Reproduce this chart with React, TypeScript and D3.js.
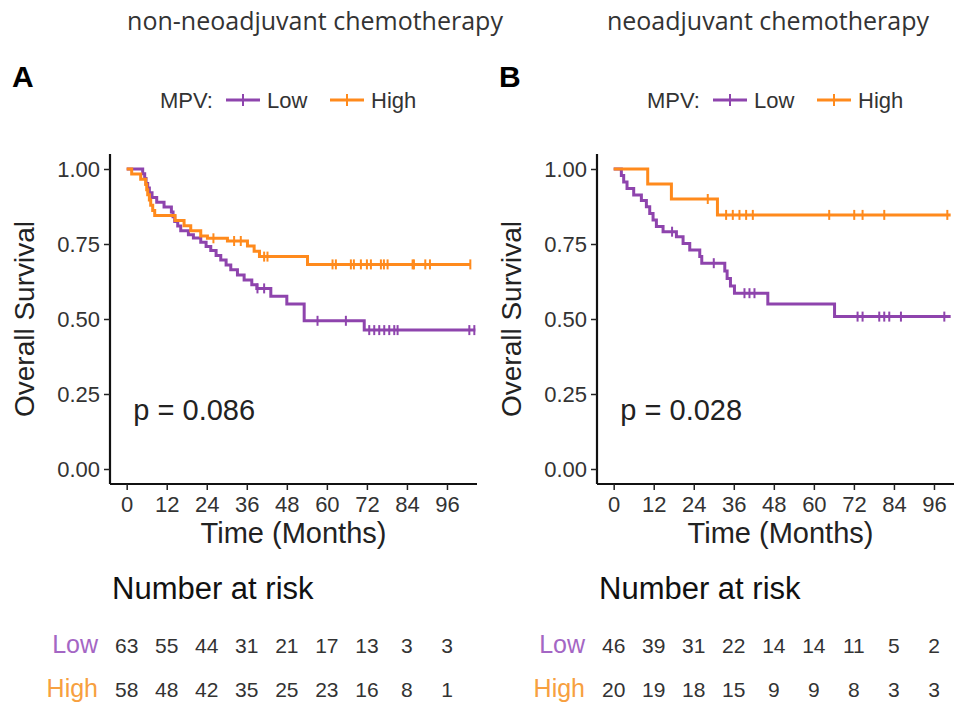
import React, { useRef, useEffect } from 'react';
import * as d3 from 'd3';

// ---- data ----
const timeBreaks = [0, 12, 24, 36, 48, 60, 72, 84, 96];
const survBreaks = [0, 0.25, 0.5, 0.75, 1];
const groups = ['Low', 'High'];

// Panel A: non-neoadjuvant chemotherapy
const aLowTimes = [4.8, 5.4, 5.8, 6.3, 6.8, 7.6, 9.0, 11.2, 13.4, 13.9, 14.4, 15.3, 16.2, 18.5, 20.0, 22.2, 23.8, 25.2, 26.8, 28.2, 29.8, 31.2, 33.2, 35.2, 37.5, 39.0, 43.2, 48.0, 53.2, 71.2];
const aLowSurv = [0.984, 0.968, 0.952, 0.937, 0.921, 0.905, 0.889, 0.873, 0.857, 0.841, 0.825, 0.81, 0.794, 0.781, 0.77, 0.756, 0.742, 0.728, 0.712, 0.697, 0.68, 0.664, 0.647, 0.63, 0.614, 0.602, 0.576, 0.55, 0.494, 0.463];
const aLowCensor = [39.2, 41.2, 57.2, 65.7, 72.7, 74.2, 75.7, 77.2, 78.7, 80.2, 81.2, 102.7, 104.2];
const aHighTimes = [1.5, 4.2, 5.7, 6.0, 6.3, 6.8, 7.2, 7.8, 8.4, 14.5, 17.2, 19.2, 22.2, 24.2, 30.2, 36.2, 38.2, 39.8, 54.2];
const aHighSurv = [0.983, 0.966, 0.948, 0.931, 0.914, 0.897, 0.879, 0.862, 0.845, 0.828, 0.811, 0.794, 0.777, 0.769, 0.76, 0.743, 0.726, 0.708, 0.682];
const aHighCensor = [26.0, 32.2, 34.2, 41.2, 42.2, 61.7, 62.7, 67.2, 68.1, 70.2, 72.0, 73.2, 76.2, 77.1, 78.2, 85.7, 86.1, 89.5, 90.9, 103.0];
const aEnd = [104.5, 103.0];
const aRiskLow = [63, 55, 44, 31, 21, 17, 13, 3, 3];
const aRiskHigh = [58, 48, 42, 35, 25, 23, 16, 8, 1];

// Panel B: neoadjuvant chemotherapy
const bLowTimes = [2.3, 3.0, 4.0, 6.0, 8.3, 9.8, 10.8, 11.8, 12.8, 14.8, 18.8, 20.8, 22.8, 25.8, 26.4, 33.3, 34.0, 35.0, 36.2, 46.2, 66.2];
const bLowSurv = [0.978, 0.957, 0.935, 0.913, 0.895, 0.874, 0.852, 0.83, 0.808, 0.791, 0.774, 0.752, 0.73, 0.708, 0.686, 0.66, 0.635, 0.61, 0.586, 0.55, 0.508];
const bLowCensor = [17.5, 30.0, 39.2, 40.7, 42.2, 73.1, 74.6, 79.6, 81.1, 82.6, 86.1, 99.1];
const bHighTimes = [10.2, 17.3, 31.1];
const bHighSurv = [0.95, 0.9, 0.847];
const bHighCensor = [28.2, 33.7, 35.7, 37.7, 39.7, 41.7, 64.6, 72.1, 74.6, 81.1, 100.0];
const bEnd = [101, 101];
const bRiskLow = [46, 39, 31, 22, 14, 14, 11, 5, 2];
const bRiskHigh = [20, 19, 18, 15, 9, 9, 8, 3, 3];

const COLORS = ['#8E44AD', '#FF8A1C'];
const RISK_COLORS = ['#A466C4', '#F7A040'];
const FONT = '"Liberation Sans", Arial, Helvetica, sans-serif';

interface Curve { times: number[]; surv: number[]; censor: number[]; end: number; }
interface PanelCfg {
  id: string; letter: string; title: string; titleX: number; pval: string;
  left: number; curves: Curve[]; risk: number[][];
}

const panels: PanelCfg[] = [
  {
    id: 'a', letter: 'A', title: 'non-neoadjuvant chemotherapy', titleX: 315, pval: 'p = 0.086', left: 110,
    curves: [
      { times: aLowTimes, surv: aLowSurv, censor: aLowCensor, end: aEnd[0] },
      { times: aHighTimes, surv: aHighSurv, censor: aHighCensor, end: aEnd[1] },
    ],
    risk: [aRiskLow, aRiskHigh],
  },
  {
    id: 'b', letter: 'B', title: 'neoadjuvant chemotherapy', titleX: 768, pval: 'p = 0.028', left: 597,
    curves: [
      { times: bLowTimes, surv: bLowSurv, censor: bLowCensor, end: bEnd[0] },
      { times: bHighTimes, surv: bHighSurv, censor: bHighCensor, end: bEnd[1] },
    ],
    risk: [bRiskLow, bRiskHigh],
  },
];

const survAt = (c: Curve, t: number) => {
  let s = 1;
  c.times.forEach((tt, i) => { if (tt <= t) s = c.surv[i]; });
  return s;
};

function drawPanel(svg: d3.Selection<SVGSVGElement, unknown, null, undefined>, p: PanelCfg) {
  const plotW = 367;
  const top = 154, bottom = 484;
  const x = d3.scaleLinear().domain([-5, 105]).range([p.left, p.left + plotW]);
  const y = d3.scaleLinear().domain([-0.05, 1.05]).range([bottom, top]);
  const cx = p.left + plotW / 2;

  const g = svg.append('g').attr('font-family', FONT);

  // panel header
  g.append('text')
    .attr('x', p.titleX).attr('y', 30)
    .attr('text-anchor', 'middle')
    .attr('font-family', '"Open Sans", "Noto Sans", sans-serif')
    .attr('font-size', 25).attr('fill', '#333')
    .text(p.title);
  g.append('text')
    .attr('x', p.left - 98).attr('y', 87)
    .attr('font-size', 30).attr('font-weight', 'bold').attr('fill', '#000')
    .text(p.letter);

  // legend
  const lg = g.append('g').attr('transform', `translate(${p.left + 50},100)`);
  lg.append('text').attr('x', 0).attr('y', 8).attr('font-size', 22).attr('fill', '#333').text('MPV:');
  const keyX = [66, 170];
  groups.forEach((name, i) => {
    const k = lg.append('g').attr('transform', `translate(${keyX[i]},0)`);
    k.append('line').attr('x1', 0).attr('x2', 34).attr('y1', 0).attr('y2', 0)
      .attr('stroke', COLORS[i]).attr('stroke-width', 3);
    k.append('line').attr('x1', 17).attr('x2', 17).attr('y1', -6).attr('y2', 6)
      .attr('stroke', COLORS[i]).attr('stroke-width', 2);
    k.append('text').attr('x', 41).attr('y', 8).attr('font-size', 22).attr('fill', '#333').text(name);
  });

  // curves (clipped to panel)
  const clipId = `clip-${p.id}`;
  svg.append('clipPath').attr('id', clipId)
    .append('rect').attr('x', p.left).attr('y', top - 5).attr('width', plotW).attr('height', bottom - top + 5);
  const plot = g.append('g').attr('clip-path', `url(#${clipId})`);
  const line = d3.line<[number, number]>()
    .x(d => x(d[0])).y(d => y(d[1]))
    .curve(d3.curveStepAfter);

  p.curves.forEach((c, i) => {
    const pts: [number, number][] = [[0, 1]];
    c.times.forEach((t, j) => pts.push([t, c.surv[j]]));
    pts.push([c.end, c.surv[c.surv.length - 1]]);
    plot.append('path').datum(pts)
      .attr('fill', 'none').attr('stroke', COLORS[i]).attr('stroke-width', 3)
      .attr('d', line);
    plot.selectAll(null).data(c.censor).enter().append('line')
      .attr('x1', d => x(d)).attr('x2', d => x(d))
      .attr('y1', d => y(survAt(c, d)) - 5).attr('y2', d => y(survAt(c, d)) + 5)
      .attr('stroke', COLORS[i]).attr('stroke-width', 2);
  });

  // axes
  const yAxis = d3.axisLeft(y).tickValues(survBreaks).tickFormat(d3.format('.2f')).tickSize(6).tickPadding(4);
  const yg = g.append('g').attr('transform', `translate(${p.left},0)`).call(yAxis);
  yg.select('.domain').attr('stroke', '#111').attr('stroke-width', 2.2).attr('d', `M0,${top}V${bottom}`);
  yg.selectAll('.tick line').attr('stroke', '#222').attr('stroke-width', 1.5);
  yg.selectAll('.tick text').attr('font-size', 22).attr('fill', '#333').attr('font-family', FONT);

  const xAxis = d3.axisBottom(x).tickValues(timeBreaks).tickSize(6).tickPadding(6);
  const xg = g.append('g').attr('transform', `translate(0,${bottom})`).call(xAxis);
  xg.select('.domain').attr('stroke', '#111').attr('stroke-width', 2.2).attr('d', `M${p.left},0H${p.left + plotW}`);
  xg.selectAll('.tick line').attr('stroke', '#222').attr('stroke-width', 1.5);
  xg.selectAll('.tick text').attr('font-size', 22).attr('fill', '#333').attr('font-family', FONT);

  g.append('text')
    .attr('x', cx).attr('y', 543).attr('text-anchor', 'middle')
    .attr('font-size', 29).attr('fill', '#222').text('Time (Months)');
  g.append('text')
    .attr('transform', `translate(${p.left - 76},${y(0.5)}) rotate(-90)`)
    .attr('text-anchor', 'middle')
    .attr('font-size', 28).attr('fill', '#222').text('Overall Survival');

  g.append('text')
    .attr('x', x(2)).attr('y', y(0.165))
    .attr('font-size', 29).attr('fill', '#222').text(p.pval);

  // risk table
  g.append('text')
    .attr('x', p.left + 2).attr('y', 599)
    .attr('font-size', 31).attr('fill', '#111').text('Number at risk');
  const rowY = [653, 697];
  groups.forEach((name, i) => {
    g.append('text')
      .attr('x', p.left - 12).attr('y', rowY[i]).attr('text-anchor', 'end')
      .attr('font-size', 25).attr('fill', RISK_COLORS[i]).text(name);
    g.selectAll(null).data(p.risk[i]).enter().append('text')
      .attr('x', (_, j) => x(timeBreaks[j])).attr('y', rowY[i])
      .attr('text-anchor', 'middle').attr('font-size', 21).attr('fill', '#333')
      .text(d => d);
  });
}

export default function App() {
  const svgRef = useRef<SVGSVGElement>(null);

  useEffect(() => {
    if (!svgRef.current) return;
    const svg = d3.select(svgRef.current);
    svg.selectAll('*').remove();
    panels.forEach(p => drawPanel(svg, p));
  }, []);

  return (
    <svg
      ref={svgRef}
      width={954}
      height={702}
      style={{ position: 'absolute', left: 0, top: 0, background: '#fff' }}
    />
  );
}
